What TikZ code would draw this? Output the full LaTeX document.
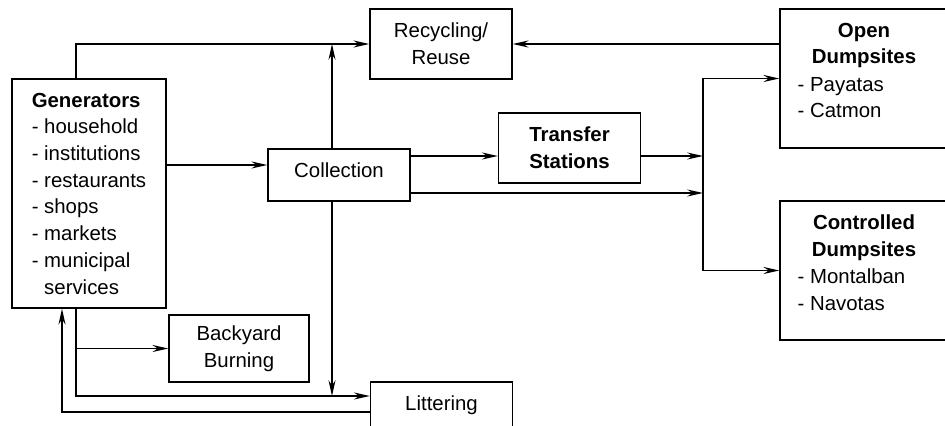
\documentclass[tikz,border=0pt]{standalone}
\usepackage{fontspec}
\setmainfont{Liberation Sans}
\usetikzlibrary{%
  arrows.meta,%
  positioning,%
  calc%
}

\begin{document}
\begin{tikzpicture}[
  font=\fontsize{11.6}{15.2}\selectfont,
  >={Stealth[length=9pt,width=4pt,inset=3pt]},
  line width=0.8pt,
  stage/.style={rectangle, minimum width=2.84cm, minimum height=1.4cm, draw=black, align=center, inner sep=2pt},
  site/.style={rectangle, minimum width=3.36cm, minimum height=2.78cm, draw=black},
  heading/.style={align=center, font=\fontsize{11.6}{15.2}\selectfont\bfseries},
  items/.style={align=left, anchor=west, inner sep=0pt}
]

\useasboundingbox (0,0) rectangle (18.9,8.52);
\clip (0,0) rectangle (18.9,8.52);

\node[stage, minimum width=3.08cm, minimum height=4.58cm, align=left] (gen) at (1.78,4.65)
  {\textbf{Generators}\\- household\\- institutions\\- restaurants\\- shops\\- markets\\- municipal\\\hphantom{- }services};
\node[stage] (rec) at (8.82,7.64) {Recycling/\\Reuse};
\node[stage, minimum height=1.04cm, text depth=0.2cm] (coll) at (6.78,5.02) {Collection};
\node[stage, heading] (trans) at (11.39,5.56) {Transfer\\Stations};
\node[stage, minimum width=2.80cm, minimum height=1.34cm] (burn) at (4.78,1.55) {Backyard\\Burning};
\node[stage, minimum height=1.04cm, text depth=0.2cm] (lit) at (8.83,0.36) {Littering};

\node[site] (open) at (17.28,6.95) {};
\node[heading] (openhead) at (17.28,7.61) {Open\\Dumpsites};
\node[items] (openlist) at (15.94,6.57) {- Payatas\\- Catmon};
\node[site] (ctrl) at (17.28,3.11) {};
\node[heading] (ctrlhead) at (17.28,3.77) {Controlled\\Dumpsites};
\node[items] (ctrllist) at (15.94,2.73) {- Montalban\\- Navotas};

\coordinate (gtop) at ([xshift=-0.26cm]gen.north);
\coordinate (gbot) at ([xshift=-0.26cm]gen.south);
\coordinate (gret) at ([xshift=-0.54cm]gen.south);
\coordinate (ctop) at ([xshift=-0.14cm]coll.north);
\coordinate (cbot) at ([xshift=-0.14cm]coll.south);
\coordinate (cin) at ([yshift=0.2cm]coll.west);
\coordinate (chi) at ([yshift=0.38cm]coll.east);
\coordinate (clo) at ([yshift=-0.36cm]coll.east);
\coordinate (litin) at ([yshift=0.24cm]lit.west);
\coordinate (litout) at ([yshift=-0.08cm]lit.west);
\coordinate (jt) at (14.06,6.95);
\coordinate (jb) at (14.06,3.11);

\draw[->] (gtop) |- (rec.west);
\draw[->] (ctop) -- (ctop |- rec.west);
\draw[->] (cin -| gen.east) -- (cin);
\draw[->] (chi) -- (chi -| trans.west);
\draw[->] (chi -| trans.east) -- (chi -| jt);
\draw[->] (clo) -- (clo -| jt);
\draw[<->] (open.west) -- (jt) -- (jb) -- (ctrl.west);
\draw[->] (open.west |- rec.east) -- (rec.east);
\draw[->] (gbot) |- (litin);
\draw[->] (gbot |- burn.west) -- (burn.west);
\draw[->] (cbot) -- (cbot |- litin);
\draw[->] (litout) -| (gret);

\end{tikzpicture}
\end{document}
